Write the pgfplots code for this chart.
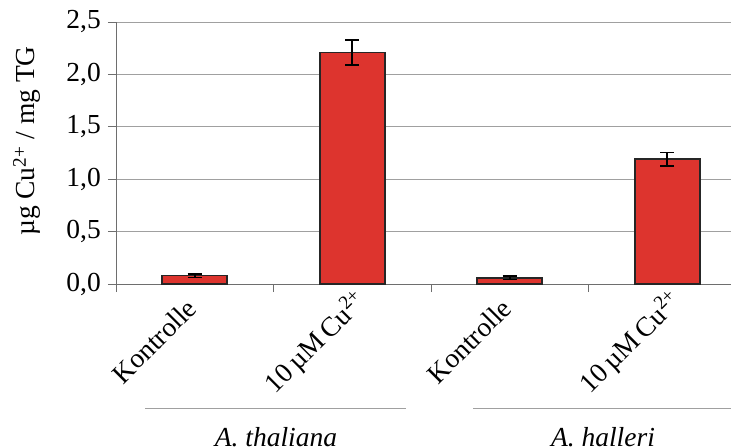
\documentclass[border=0pt]{standalone}
\usepackage{pgfplots}
\pgfplotsset{compat=1.18}
\usepackage{fontspec}
\setmainfont{Liberation Serif}
\newcommand\fs{\fontsize{27.5}{32}\selectfont}
\definecolor{barred}{RGB}{221,52,46}
\definecolor{gridgray}{RGB}{160,160,160}
\definecolor{axgray}{RGB}{110,110,110}
\newcommand\kon{\raisebox{-3pt}{Kontrolle}\hspace*{14pt}}
\begin{document}
\begin{tikzpicture}
\begin{axis}[
  scale only axis,
  width=615pt, height=262pt,
  xmin=-0.5, xmax=3.405,
  ymin=0, ymax=2.5,
  ytick={0,0.5,1,1.5,2,2.5},
  ymajorgrids,
  grid style={gridgray, line width=0.8pt},
  axis x line*=bottom, axis y line*=left,
  axis line style={-, axgray, line width=0.9pt},
  tick align=outside,
  major tick length=8pt,
  tick style={axgray, line width=0.9pt},
  xtick={-0.5,0.5,1.5,2.5},
  xticklabels={,,,},
  extra x ticks={0,1,2,3},
  extra x tick labels={\kon,10\,µM\,Cu\textsuperscript{2+},\kon,10\,µM\,Cu\textsuperscript{2+}},
  extra x tick style={major tick length=0pt, grid=none,
    tick label style={rotate=45, anchor=north east, font=\fs, inner sep=2pt}},
  yticklabel style={font=\fs, inner sep=7pt},
  /pgf/number format/.cd, use comma, fixed, fixed zerofill, precision=1, assume math mode=true,
  /pgfplots/.cd,
  clip=false,
]
\addplot[ybar, bar width=65pt, fill=barred, draw=black!85, line width=1.6pt,
  error bars/.cd, y dir=both, y explicit,
  error bar style={black, line width=1.6pt},
  error mark options={rotate=90, mark size=7pt, black, line width=1.6pt}]
  coordinates {
  (0,0.08) +- (0,0.018)
  (1,2.21) +- (0,0.12)
  (2,0.06) +- (0,0.018)
  (3,1.19) +- (0,0.065)
  };
\end{axis}
\draw[gridgray, line width=1pt] (29pt,-124pt) -- (290pt,-124pt);
\draw[gridgray, line width=1pt] (357pt,-124pt) -- (630pt,-124pt);
\node[font=\fs\itshape, anchor=base] at (160pt,-162pt) {A. thaliana};
\node[font=\fs\itshape, anchor=base] at (487pt,-162pt) {A. halleri};
\node[font=\fs, rotate=90] at (-89pt,143pt) {µg Cu\textsuperscript{2+} / mg TG};
\pgfresetboundingbox
\useasboundingbox (-116pt,-163pt) rectangle (615pt,284pt);
\end{tikzpicture}
\end{document}
